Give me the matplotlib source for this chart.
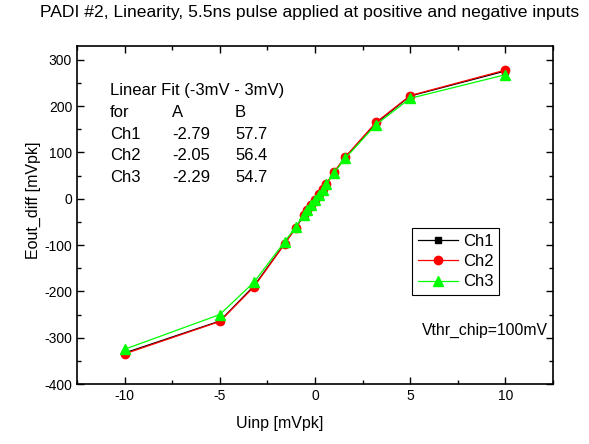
import matplotlib
matplotlib.use("Agg")
import matplotlib.pyplot as plt
from matplotlib.ticker import MultipleLocator

plt.rcParams['font.family'] = ['Liberation Sans', 'DejaVu Sans']
plt.rcParams['axes.unicode_minus'] = False

uinp = [-10, -5, -3.2, -1.6, -1.0, -0.6, -0.4, -0.2, 0, 0.2, 0.4, 0.6, 1.0, 1.6, 3.2, 5, 10]
ch1 = [-333, -264, -188, -97, -62, -37, -26, -14, -3, 9, 20, 32, 57, 90, 163, 222, 276]
ch2 = [-335, -265, -190, -98, -62, -36, -25, -13, -2, 10, 21, 33, 58, 91, 165, 223, 278]
ch3 = [-325, -250, -180, -93, -60, -35, -24, -13, -2, 9, 20, 31, 56, 88, 160, 217, 268]

fit_rows = [("Ch1", "-2.79", "57.7"), ("Ch2", "-2.05", "56.4"), ("Ch3", "-2.29", "54.7")]

fig = plt.figure(figsize=(5.89, 4.44), dpi=100)
ax = fig.add_axes([77/589, 1-384/444, (553-77)/589, (384-46)/444])

ax.plot(uinp, ch1, color='black', lw=0.9, marker='s', ms=5, label='Ch1')
ax.plot(uinp, ch2, color='red', lw=0.9, marker='o', ms=6, label='Ch2')
ax.plot(uinp, ch3, color='#00ff00', lw=0.9, marker='^', ms=7, label='Ch3')

ax.set_xlim(-12.5, 12.5)
ax.set_ylim(-400, 330)
ax.xaxis.set_major_locator(MultipleLocator(5))
ax.xaxis.set_minor_locator(MultipleLocator(2.5))
ax.yaxis.set_major_locator(MultipleLocator(100))
ax.yaxis.set_minor_locator(MultipleLocator(50))
ax.tick_params(which='both', direction='in', top=True, right=True, labelsize=10, width=1)
ax.tick_params(which='major', length=5)
ax.tick_params(which='minor', length=3)
for s in ax.spines.values():
    s.set_linewidth(1.2)

fig.text(280/589, 1-423/444, 'Uinp [mVpk]', fontsize=11.5, ha='center', va='center')
fig.text(33/589, 1-200/444, 'Eout_diff [mVpk]', fontsize=11.5, ha='center', va='center',
         rotation=90)
fig.text(310/589, 1-12/444, 'PADI #2, Linearity, 5.5ns pulse applied at positive and negative inputs',
         ha='center', va='center', fontsize=12.6)

def px2data(px, py):
    x = -12.5 + (px - 77) / 476 * 25
    y = -400 + (384 - py) / 338 * 730
    return x, y

fs = 12
ax.text(*px2data(110, 90), 'Linear Fit (-3mV - 3mV)', fontsize=fs, va='center')
ax.text(*px2data(110, 112), 'for', fontsize=fs, va='center')
ax.text(*px2data(172, 112), 'A', fontsize=fs, va='center')
ax.text(*px2data(235, 112), 'B', fontsize=fs, va='center')
ys = [134, 155, 177]
for (c, a, b), py in zip(fit_rows, ys):
    ax.text(*px2data(110, py), c, fontsize=fs, va='center')
    ax.text(*px2data(172, py), a, fontsize=fs, va='center')
    ax.text(*px2data(235, py), b, fontsize=fs, va='center')

ax.text(*px2data(548, 330), 'Vthr_chip=100mV', fontsize=11.3, ha='right', va='center')

leg = ax.legend(loc='upper left', bbox_to_anchor=((412-77)/476, (384-228)/338),
                fontsize=12, handlelength=2.4, handletextpad=0.3, borderpad=0.35,
                labelspacing=0.32, borderaxespad=0, fancybox=False, edgecolor='black',
                framealpha=1)
leg.get_frame().set_linewidth(0.8)

fig.savefig('out.png', dpi=100)
